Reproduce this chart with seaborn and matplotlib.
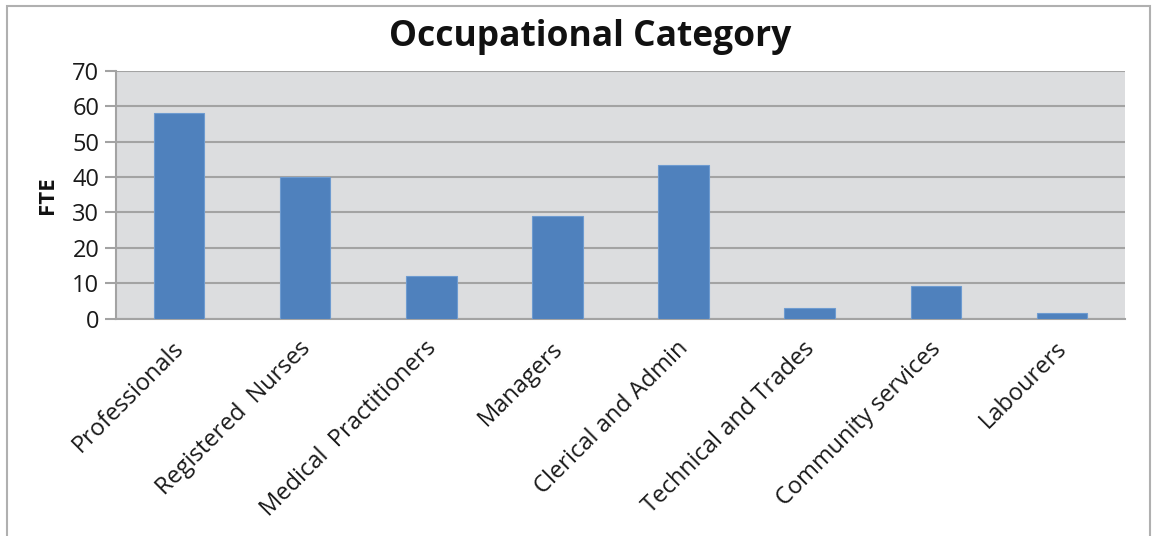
import matplotlib
matplotlib.use("Agg")
import matplotlib.pyplot as plt
import matplotlib.patches as mpatches
import matplotlib.transforms as mtransforms
import seaborn as sns
import pandas as pd

categories = ["Professionals", "Registered  Nurses", "Medical  Practitioners", "Managers",
              "Clerical and Admin", "Technical and Trades", "Community services", "Labourers"]
fte = [58, 40, 12, 29, 43.4, 3.0, 9.2, 1.5]
yticks = [0, 10, 20, 30, 40, 50, 60, 70]

df = pd.DataFrame({"category": categories, "fte": fte})

sns.set_theme(style="white")
plt.rcParams['font.family'] = ['Open Sans', 'DejaVu Sans']

fig = plt.figure(figsize=(11.56, 5.36), dpi=100)
ax = fig.add_axes([116/1156, 1 - 318.5/536, (1125-116)/1156, (318.5-71)/536])
ax.set_facecolor("#DCDDDF")

sns.barplot(data=df, x="category", y="fte", ax=ax, color="#4F81BD", width=0.4,
            saturation=1, edgecolor="#6E9BD0", linewidth=0.8, zorder=3)

ax.set_ylim(0, 70)
ax.set_xlim(-0.5, len(categories) - 0.5)
ax.set_yticks(yticks)
ax.set_yticklabels([str(t) for t in yticks], fontsize=17, color="#1A1A1A")
ax.yaxis.grid(True, color="#A3A3A3", linewidth=1.5, zorder=0)
ax.set_axisbelow(True)

ax.set_xticks(range(len(categories)))
ax.set_xticklabels(categories, rotation=45, ha="right", rotation_mode="anchor",
                   fontsize=17, color="#1A1A1A")
ax.tick_params(axis="x", which="major", length=0, pad=13)
offset = mtransforms.ScaledTranslation(-7/100, 0, fig.dpi_scale_trans)
for lbl in ax.get_xticklabels():
    lbl.set_transform(lbl.get_transform() + offset)
ax.set_xticks([i - 0.5 for i in range(len(categories) + 1)], minor=True)
ax.tick_params(axis="x", which="minor", length=8, width=1.5, color="#A3A3A3", direction="out")
ax.tick_params(axis="y", length=8, width=1.5, color="#A3A3A3", direction="out", pad=4, left=True)

for s in ["top", "right"]:
    ax.spines[s].set_visible(False)
for s in ["left", "bottom"]:
    ax.spines[s].set_color("#A3A3A3")
    ax.spines[s].set_linewidth(1.5)

ax.set_xlabel("")
ax.set_ylabel("FTE", fontsize=16, fontweight="bold", labelpad=10, color="#111111")
fig.text(590/1156, 1 - 37/536, "Occupational Category", fontsize=25.5, fontweight="bold",
         color="#111111", ha="center", va="center")

border = mpatches.Rectangle((7/1156, -0.02), (1150-7)/1156, 1 - 5.5/536 + 0.02,
                            transform=fig.transFigure, fill=False, edgecolor="#B0B0B0",
                            linewidth=1.5)
fig.patches.append(border)

fig.savefig("out.png", dpi=100, facecolor="white")
